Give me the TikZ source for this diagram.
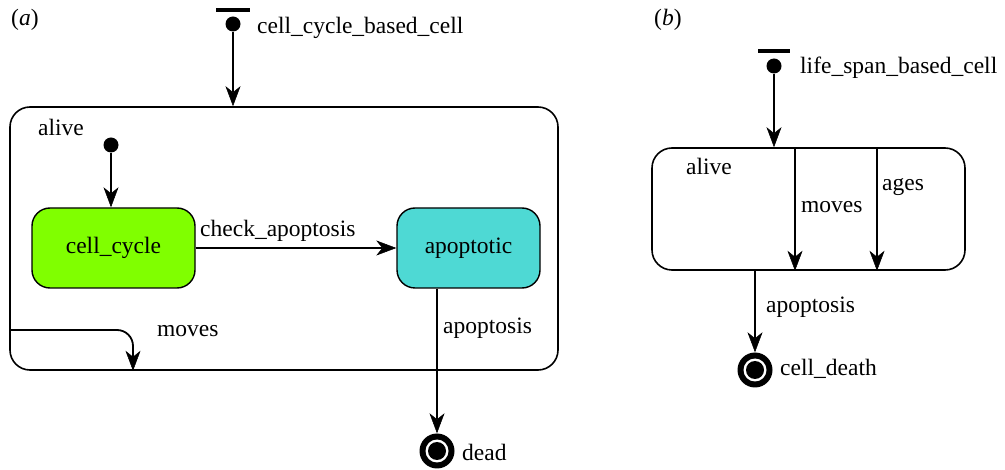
\documentclass[tikz,border=0pt]{standalone}
\usepackage{fontspec}
\setmainfont{Liberation Serif}
\usetikzlibrary{arrows.meta,calc}
\definecolor{cyclegreen}{RGB}{128,255,0}
\definecolor{apocyan}{RGB}{78,217,212}
\tikzset{
  txt/.style={font=\fontsize{23.5}{27}\selectfont, inner sep=0pt},
  lbl/.style={txt, anchor=west},
  arr/.style={line width=1.8pt, -{Stealth[length=20pt,width=15pt,inset=6pt,line width=0.5pt]}},
  statebox/.style={draw, line width=1.6pt, rounded corners=20pt, inner sep=0pt},
  innerbox/.style={draw, line width=1.4pt, rounded corners=18pt, inner sep=0pt, txt},
  pseudo/.style={circle, fill=black, inner sep=0pt, minimum size=15pt},
  barline/.style={line width=4pt},
  finalst/.style={circle, fill=black, inner sep=0pt, minimum size=35pt,
    path picture={\fill[white] (path picture bounding box.center) circle (11.5pt);
                  \fill[black] (path picture bounding box.center) circle (9pt);}}
}
\begin{document}
\begin{tikzpicture}[x=1pt,y=-1pt]
\useasboundingbox (0,0) rectangle (1005,470);
% ---------- panel (a) ----------
\node[lbl] (la) at (11,20) {(\textit{a})};
\node[pseudo] (inita) at (233,24) {};
\coordinate (bara1) at (216,10);
\coordinate (bara2) at (250,10);
\draw[barline] (bara1) -- (bara2);
\node[lbl] (cellcyclebased) at (257,28) {cell\_cycle\_based\_cell};
\node[statebox, minimum width=548pt, minimum height=263pt] (alivea) at (284,238.5) {};
\draw[arr] (inita) -- (inita |- alivea.north);
\node[lbl] (alivelbla) at (38,127) {alive};
\node[pseudo] (initb) at (111,145) {};
\node[innerbox, fill=cyclegreen, minimum width=163pt, minimum height=80pt] (cc) at (113.5,248) {cell\_cycle};
\node[innerbox, fill=apocyan, minimum width=143pt, minimum height=80pt] (apo) at (468.5,248) {apoptotic};
\draw[arr] (initb) -- (initb |- cc.north);
\draw[arr] (cc.east) -- (apo.west);
\node[lbl] (checklbl) at (200,231) {check\_apoptosis};
\node[finalst] (dead) at (437,451) {};
\node[lbl] (deadlbl) at (462,452) {dead};
\draw[arr] (dead |- apo.south) -- (dead.north);
\node[lbl] (apolbla) at (443,328) {apoptosis};
\coordinate (mv1) at (alivea.west |- 0,330);
\coordinate (mv2) at (133,330);
\coordinate (mv3) at (mv2 |- alivea.south);
\draw[arr, rounded corners=16pt] (mv1) -- (mv2) -- (mv3);
\node[lbl] (moveslbla) at (157,331) {moves};
% ---------- panel (b) ----------
\node[lbl] (lb) at (654,20) {(\textit{b})};
\node[pseudo] (initc) at (774,66) {};
\coordinate (barb1) at (758,51);
\coordinate (barb2) at (790,51);
\draw[barline] (barb1) -- (barb2);
\node[lbl] (lifespan) at (800,68) {life\_span\_based\_cell};
\node[statebox, minimum width=313pt, minimum height=122pt] (aliveb) at (808.5,209) {};
\draw[arr] (initc) -- (initc |- aliveb.north);
\node[lbl] (alivelblb) at (686,166) {alive};
\coordinate (mb1) at (795,148);
\coordinate (mb2) at (mb1 |- aliveb.south);
\draw[arr] (mb1) -- (mb2);
\node[lbl] (moveslblb) at (801,207) {moves};
\coordinate (ag1) at (877,148);
\coordinate (ag2) at (ag1 |- aliveb.south);
\draw[arr] (ag1) -- (ag2);
\node[lbl] (ageslbl) at (882,187) {ages};
\node[finalst] (death) at (755,370) {};
\node[lbl] (deathlbl) at (780,369) {cell\_death};
\draw[arr] (death |- aliveb.south) -- (death.north);
\node[lbl] (apolblb) at (766,307) {apoptosis};
\end{tikzpicture}
\end{document}
